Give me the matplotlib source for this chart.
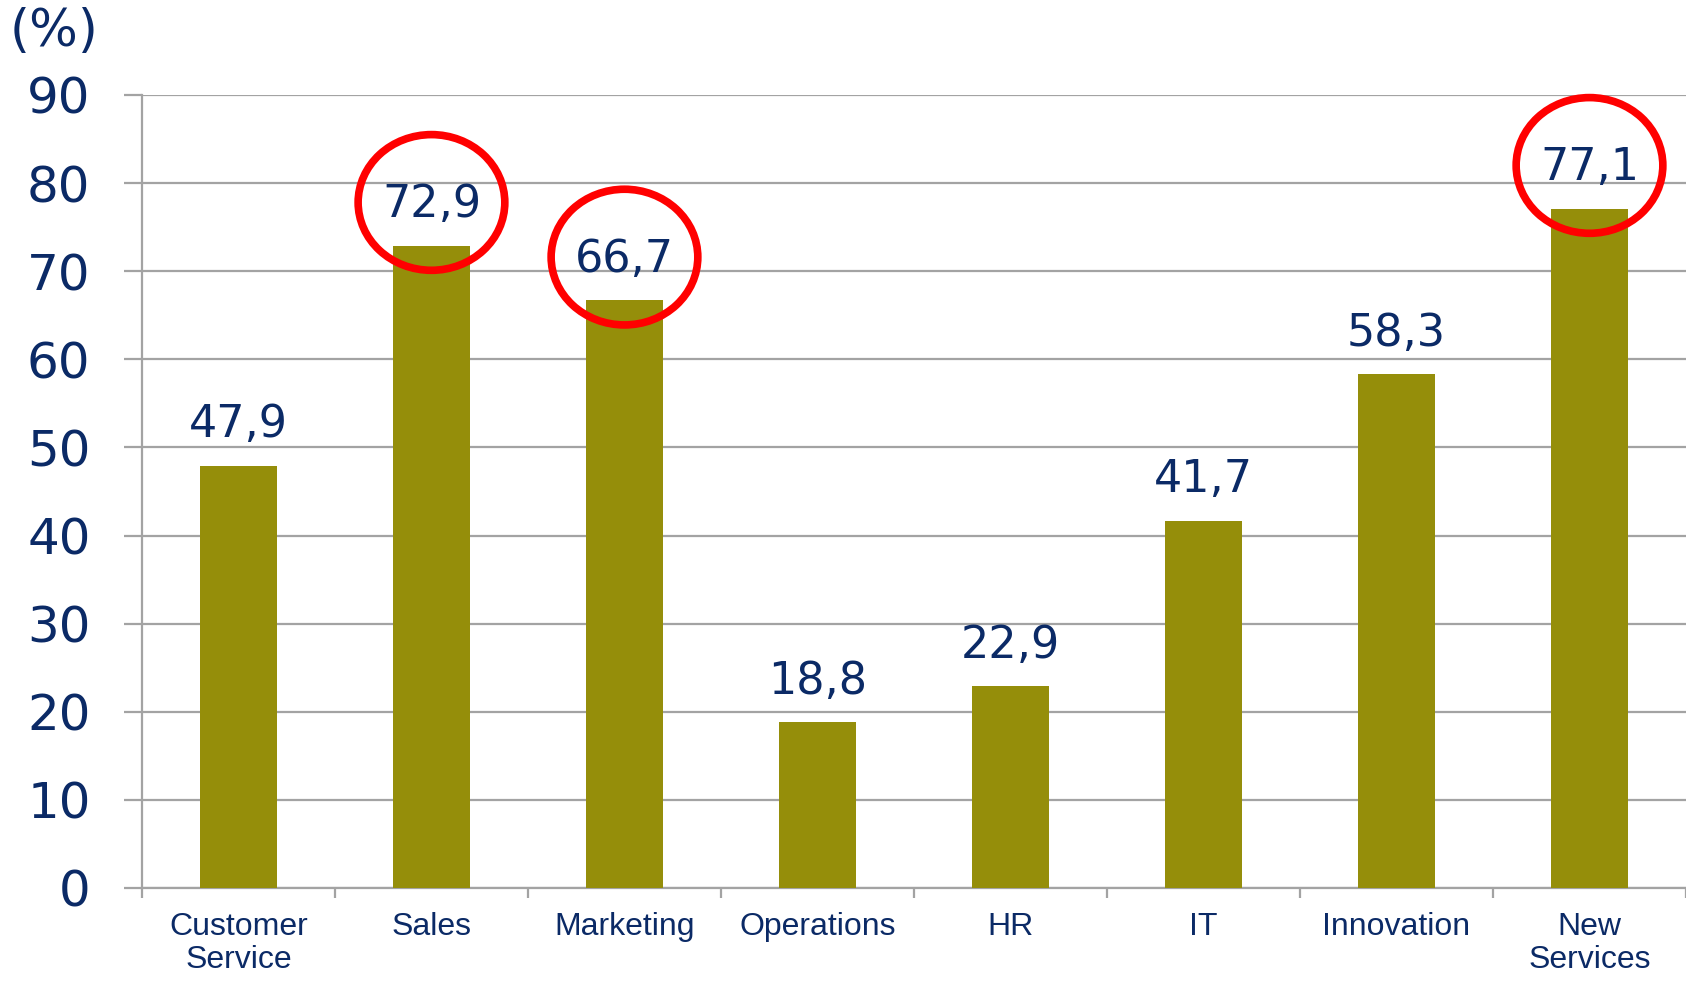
import matplotlib
matplotlib.use("Agg")
import matplotlib.pyplot as plt
from matplotlib.patches import Ellipse
import numpy as np

categorias = ["Customer\nService", "Sales", "Marketing", "Operations", "HR", "IT",
              "Innovation", "New\nServices"]
valores = [47.9, 72.9, 66.7, 18.8, 22.9, 41.7, 58.3, 77.1]
etiquetas = ["47,9", "72,9", "66,7", "18,8", "22,9", "41,7", "58,3", "77,1"]
marcados = [1, 2, 7]

azul = "#0b2a66"
oliva = "#958e0a"
gris = "#a3a3a3"

fig = plt.figure(figsize=(16.86, 9.85), dpi=100)
ax = fig.add_axes([0.0842, 0.0985, 0.9158, 0.8051])

x = np.arange(len(valores))
ax.bar(x, valores, width=0.4, color=oliva, zorder=3)

ax.set_xlim(-0.5, len(valores) - 0.5)
ax.set_ylim(0, 90)
ax.set_yticks(np.arange(0, 91, 10))
ax.yaxis.grid(True, color=gris, linewidth=1.6, zorder=0)
ax.set_axisbelow(True)

for s in ["top", "right"]:
    ax.spines[s].set_visible(False)
for s in ["left", "bottom"]:
    ax.spines[s].set_color(gris)
    ax.spines[s].set_linewidth(1.6)

ax.tick_params(axis="y", length=13, width=1.6, color=gris, pad=24,
               labelsize=36, labelcolor=azul)
for t in ax.get_yticklabels():
    t.set_family("DejaVu Sans")

# limites de categoria como ticks mayores, nombres como menores
ax.set_xticks(np.arange(-0.5, len(valores) - 0.4, 1.0))
ax.set_xticklabels([])
ax.tick_params(axis="x", which="major", length=7, width=1.6, color=gris)
ax.set_xticks(x, minor=True)
ax.set_xticklabels(categorias, minor=True, fontsize=23, color=azul,
                   family="Liberation Sans", linespacing=1.15)
ax.tick_params(axis="x", which="minor", length=0, pad=17)

for i, v in enumerate(valores):
    ax.annotate(etiquetas[i], (x[i], v), xytext=(0, 14), textcoords="offset points",
                ha="center", va="bottom", fontsize=32, color=azul,
                family="DejaVu Sans", zorder=5)

for i in marcados:
    e = Ellipse((x[i], valores[i] + 4.9), width=0.76, height=15.4, fill=False,
                edgecolor="#ff0000", linewidth=5.5, zorder=6, clip_on=False)
    ax.add_patch(e)

fig.text(0.032, 0.968, "(%)", ha="center", va="center", fontsize=37, color=azul,
         family="DejaVu Sans")

fig.savefig("out.png", dpi=100)
